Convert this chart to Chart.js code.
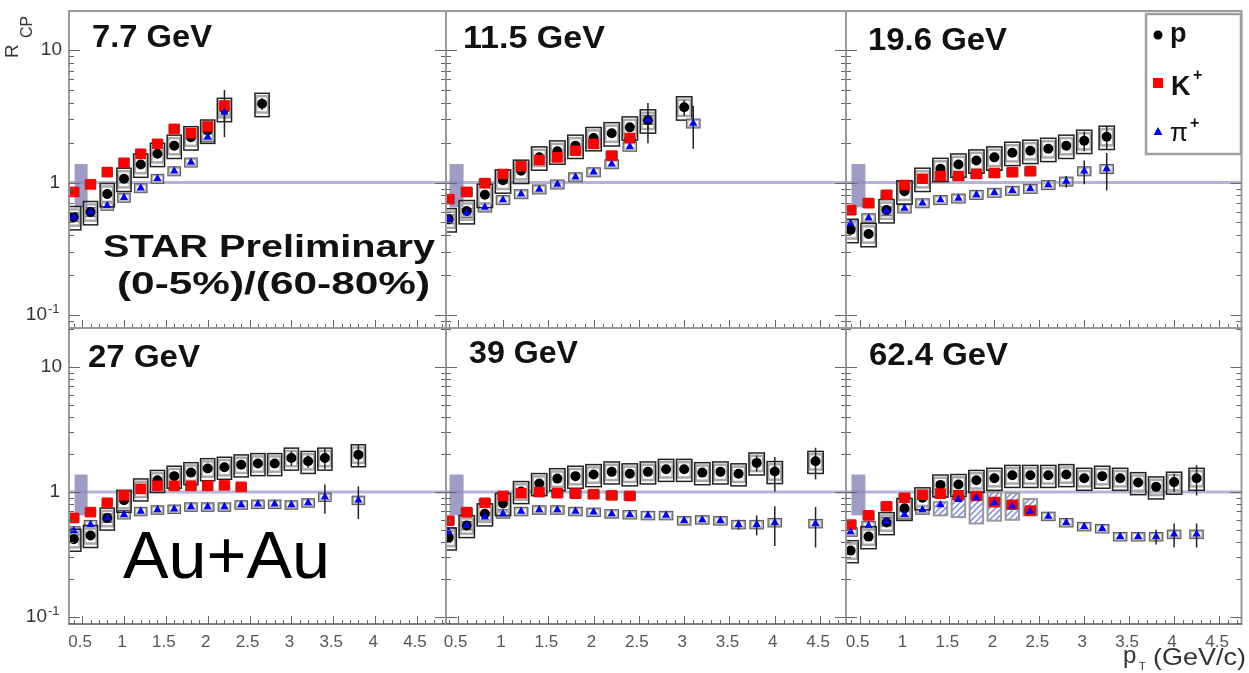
<!DOCTYPE html>
<html>
<head>
<meta charset="utf-8">
<script src="https://cdn.jsdelivr.net/npm/chart.js@4.4.1/dist/chart.umd.min.js"></script>
<style>
body{margin:0;background:#fff;}
#wrap{position:relative;width:1249px;height:673px;overflow:hidden;}
#wrap canvas{position:absolute;left:0;top:0;}
</style>
</head>
<body>
<div id="wrap"></div>
<script>
// R_CP (0-5%)/(60-80%) values, one set per energy
const pt77  = [0.4,0.6,0.8,1.0,1.2,1.4,1.6,1.8,2.0,2.2,2.65];
const p77   = [0.55,0.60,0.82,1.07,1.37,1.65,1.90,2.20,2.47,3.60,3.93];
const k77   = [0.85,0.97,1.20,1.41,1.65,1.96,2.54,2.36,2.65,3.81,null];
const pi77  = [0.55,0.60,0.67,0.77,0.91,1.07,1.22,1.42,2.20,3.39,null];
const pErr77  = [0,0,0,0,0,0,0,0,0,1.4,0.4];
const piErr77 = [0,0,0,0,0,0,0,0,0,0.5,0];

const pt115 = [0.4,0.6,0.8,1.0,1.2,1.4,1.6,1.8,2.0,2.2,2.4,2.6,3.0,3.1];
const p115  = [0.53,0.61,0.81,1.04,1.23,1.55,1.72,1.90,2.17,2.36,2.61,2.95,3.70,null];
const k115  = [0.75,0.85,0.99,1.16,1.33,1.48,1.55,1.74,1.96,1.60,2.17,null,null,null];
const pi115 = [0.53,0.59,0.65,0.74,0.82,0.89,0.97,1.10,1.20,1.38,1.87,2.98,null,2.80];
const pErr115  = [0,0,0,0,0,0,0,0,0,0,0,0.4,0.5,0];
const piErr115 = [0,0,0,0,0,0,0,0,0,0,0,1.0,0,1.0];

const pt196 = [0.4,0.6,0.8,1.0,1.2,1.4,1.6,1.8,2.0,2.2,2.4,2.6,2.8,3.0,3.25];
const p196  = [0.44,0.41,0.62,0.86,1.07,1.27,1.37,1.47,1.55,1.68,1.74,1.80,1.90,2.07,2.22];
const k196  = [0.62,0.70,0.81,0.96,1.07,1.12,1.12,1.16,1.18,1.20,1.22,null,null,null,null];
const pi196 = [0.49,0.54,0.61,0.64,0.70,0.74,0.76,0.81,0.84,0.87,0.90,0.96,1.02,1.22,1.27];
const pErr196  = [0,0,0,0,0,0,0,0,0,0,0,0,0,0.35,0.45];
const piErr196 = [0,0,0,0,0,0,0,0,0,0,0,0,0.1,0.25,0.4];

const pt27  = [0.4,0.6,0.8,1.0,1.2,1.4,1.6,1.8,2.0,2.2,2.4,2.6,2.8,3.0,3.2,3.4,3.8];
const p27   = [0.42,0.45,0.62,0.86,1.06,1.24,1.34,1.43,1.54,1.58,1.65,1.69,1.69,1.87,1.76,1.87,1.99];
const k27   = [0.62,0.69,0.82,0.94,1.06,1.12,1.12,1.12,1.12,1.13,1.10,null,null,null,null,null,null];
const pi27  = [0.49,0.55,0.62,0.66,0.70,0.72,0.73,0.76,0.76,0.76,0.79,0.80,0.80,0.79,0.82,0.91,0.86];
const pErr27  = [0,0,0,0,0,0,0,0,0,0,0,0,0,0.25,0.2,0.35,0.4];
const piErr27 = [0,0,0,0,0,0,0,0,0,0,0,0,0,0,0,0.24,0.25];

const pt39  = [0.4,0.6,0.8,1.0,1.2,1.4,1.6,1.8,2.0,2.2,2.4,2.6,2.8,3.0,3.2,3.4,3.6,3.8,4.0,4.45];
const p39   = [0.43,0.54,0.67,0.81,1.01,1.17,1.28,1.34,1.38,1.45,1.40,1.45,1.52,1.52,1.43,1.45,1.40,1.71,1.46,1.76];
const k39   = [0.59,0.69,0.82,0.93,0.98,1.00,0.98,0.97,0.96,0.94,0.93,null,null,null,null,null,null,null,null,null];
const pi39  = [0.48,0.54,0.63,0.67,0.70,0.72,0.72,0.70,0.69,0.67,0.66,0.65,0.65,0.59,0.60,0.59,0.55,0.55,0.57,0.56];
const pErr39  = [0,0,0,0,0,0,0,0,0,0,0,0,0,0,0,0,0,0.25,0.45,0.5];
const piErr39 = [0,0,0,0,0,0,0,0,0,0,0,0,0,0,0,0,0.05,0.1,0.2,0.2];

const pt62  = [0.4,0.6,0.8,1.0,1.2,1.4,1.6,1.8,2.0,2.2,2.4,2.6,2.8,3.0,3.2,3.4,3.6,3.8,4.0,4.25];
const p62   = [0.34,0.44,0.57,0.74,0.90,1.14,1.15,1.24,1.29,1.36,1.36,1.36,1.38,1.29,1.34,1.29,1.19,1.10,1.20,1.29];
const k62   = [0.55,0.65,0.77,0.90,0.95,0.97,0.94,0.93,0.83,0.79,0.71,null,null,null,null,null,null,null,null,null];
const pi62  = [0.48,0.54,0.58,0.66,0.72,0.79,0.87,0.90,0.82,0.77,0.70,0.64,0.57,0.53,0.51,0.44,0.44,0.44,0.46,0.46];
const pErr62  = [0,0,0,0,0,0,0,0,0,0,0,0,0,0,0,0,0,0,0.2,0.35];
const piErr62 = [0,0,0,0,0,0,0,0,0,0,0,0,0,0,0,0,0,0.06,0.1,0.1];
// hatched pion boxes at 62.4 GeV (pT 1.4 - 2.4)
const hatchPt62 = [1.4,1.6,1.8,2.0,2.2,2.4];
const hatchLo62 = [0.65,0.63,0.56,0.59,0.60,0.65];
const hatchHi62 = [0.83,0.88,1.00,1.00,0.98,0.88];

// normalisation uncertainty box and relative systematics
const normX = [0.41,0.565];
const normY = [0.65,1.38];
const pSys = 0.2, kSys = 0.07, piSys = 0.06;

const xTicks = [0.5,1,1.5,2,2.5,3,3.5,4,4.5];
const xLabels = ['0.5','1','1.5','2','2.5','3','3.5','4','4.5'];

const W = 1249, H = 673;
const FONT = '"Liberation Sans", Arial, sans-serif';

const panels = [
  {name:'7.7 GeV', pt:pt77, p:p77, k:k77, pi:pi77, pe:pErr77, pie:piErr77,
   area:[69,11,446,328], xr:[0.343,4.847], yr:[0.08,19.7], col:0, row:0, lab:[92,47,120]},
  {name:'11.5 GeV', pt:pt115, p:p115, k:k115, pi:pi115, pe:pErr115, pie:piErr115,
   area:[446,11,846,328], xr:[0.371,4.786], yr:[0.08,19.7], col:1, row:0, lab:[463,48,142]},
  {name:'19.6 GeV', pt:pt196, p:p196, k:k196, pi:pi196, pe:pErr196, pie:piErr196,
   area:[846,11,1245,328], xr:[0.349,4.75], yr:[0.08,19.7], col:2, row:0, lab:[868,50,139]},
  {name:'27 GeV', pt:pt27, p:p27, k:k27, pi:pi27, pe:pErr27, pie:piErr27,
   area:[69,328,446,624], xr:[0.343,4.847], yr:[0.088,20.5], col:0, row:1, lab:[88,367,112]},
  {name:'39 GeV', pt:pt39, p:p39, k:k39, pi:pi39, pe:pErr39, pie:piErr39,
   area:[446,328,846,624], xr:[0.371,4.786], yr:[0.088,20.5], col:1, row:1, lab:[469,363,109]},
  {name:'62.4 GeV', pt:pt62, p:p62, k:k62, pi:pi62, pe:pErr62, pie:piErr62,
   area:[846,328,1245,624], xr:[0.349,4.75], yr:[0.088,20.5], col:2, row:1, lab:[869,365,139],
   hatch:true}
];

function pts(pt, ys, errs){
  const out = [];
  pt.forEach((x,i)=>{ if (ys[i] != null) out.push({x:x, y:ys[i], e: errs ? errs[i] : 0}); });
  return out;
}

function fitText(ctx, txt, x, y, w, font){
  ctx.save();
  ctx.font = font;
  const m = ctx.measureText(txt).width;
  ctx.translate(x, y);
  ctx.scale(w / m, 1);
  ctx.textAlign = 'left';
  ctx.textBaseline = 'alphabetic';
  ctx.fillText(txt, 0, 0);
  ctx.restore();
}

function box(ctx, sx, sy, xc, yc, hw, frac, color, lw){
  const l = sx.getPixelForValue(xc-hw), r = sx.getPixelForValue(xc+hw);
  const t = sy.getPixelForValue(yc*(1+frac)), b = sy.getPixelForValue(yc*(1-frac));
  ctx.strokeStyle = color; ctx.lineWidth = lw;
  ctx.strokeRect(l, t, r-l, b-t);
}

function makePlugin(P){
  return {
    id: 'rcp',
    beforeDatasetsDraw(chart){
      const ctx = chart.ctx, a = chart.chartArea, sx = chart.scales.x, sy = chart.scales.y;
      ctx.save();
      ctx.beginPath(); ctx.rect(a.left, a.top, a.right-a.left, a.bottom-a.top); ctx.clip();
      // unity line
      const y1 = sy.getPixelForValue(1);
      ctx.strokeStyle = '#b4b4d6'; ctx.lineWidth = 3;
      ctx.beginPath(); ctx.moveTo(a.left, y1); ctx.lineTo(a.right, y1); ctx.stroke();
      // normalisation box
      const nx0 = sx.getPixelForValue(normX[0]), nx1 = sx.getPixelForValue(normX[1]);
      const ny0 = sy.getPixelForValue(normY[1]), ny1 = sy.getPixelForValue(normY[0]);
      ctx.fillStyle = 'rgba(140,140,188,0.85)';
      ctx.fillRect(nx0, ny0, nx1-nx0, ny1-ny0);
      // hatched pion boxes
      if (P.hatch){
        hatchPt62.forEach((x,i)=>{
          const l = sx.getPixelForValue(x-0.075), r = sx.getPixelForValue(x+0.075);
          const t = sy.getPixelForValue(hatchHi62[i]), b = sy.getPixelForValue(hatchLo62[i]);
          ctx.save();
          ctx.beginPath(); ctx.rect(l, t, r-l, b-t); ctx.clip();
          ctx.strokeStyle = '#8090e8'; ctx.lineWidth = 1.6;
          for (let s = -(b-t); s < (r-l); s += 6){
            ctx.beginPath(); ctx.moveTo(l+s, b); ctx.lineTo(l+s+(b-t), t); ctx.stroke();
          }
          ctx.restore();
          ctx.strokeStyle = '#999'; ctx.lineWidth = 2;
          ctx.strokeRect(l, t, r-l, b-t);
        });
      }
      // systematic boxes
      P.pt.forEach((x,i)=>{
        if (P.pi[i] != null && !(P.hatch && x >= 1.3 && x <= 2.5)){
          box(ctx, sx, sy, x, P.pi[i], 0.065, piSys, '#b0b0b0', 2);
          box(ctx, sx, sy, x, P.pi[i], 0.075, piSys*1.3, '#555', 1);
        }
        if (P.k[i] != null){
          box(ctx, sx, sy, x, P.k[i], 0.06, kSys, '#555', 1.5);
        }
        if (P.p[i] != null){
          box(ctx, sx, sy, x, P.p[i], 0.072, pSys*0.7, '#aaa', 2.5);
          box(ctx, sx, sy, x, P.p[i], 0.085, pSys, '#222', 1.5);
        }
      });
      // statistical error bars
      ctx.strokeStyle = '#222'; ctx.lineWidth = 1.5;
      chart.data.datasets.forEach(ds=>{
        ds.data.forEach(d=>{
          if (!d.e) return;
          const px = sx.getPixelForValue(d.x);
          ctx.beginPath();
          ctx.moveTo(px, sy.getPixelForValue(d.y + d.e));
          ctx.lineTo(px, sy.getPixelForValue(Math.max(d.y - d.e, 0.01)));
          ctx.stroke();
        });
      });
      ctx.restore();
    },
    afterDraw(chart){
      const ctx = chart.ctx, a = chart.chartArea, sx = chart.scales.x, sy = chart.scales.y;
      ctx.save();
      // frame
      ctx.strokeStyle = '#9a9a9a'; ctx.lineWidth = 2;
      ctx.strokeRect(a.left, a.top, a.right-a.left, a.bottom-a.top);
      ctx.strokeStyle = '#777'; ctx.lineWidth = 1.5;
      ctx.beginPath(); ctx.moveTo(a.left, a.bottom); ctx.lineTo(a.right, a.bottom); ctx.stroke();
      // log y ticks, both sides
      ctx.strokeStyle = '#666'; ctx.lineWidth = 1;
      for (let e = -2; e <= 1; e++){
        for (let m = 1; m <= 9; m++){
          const v = m * Math.pow(10, e);
          if (v < P.yr[0] || v > P.yr[1]) continue;
          const py = Math.round(sy.getPixelForValue(v)) + 0.5;
          const len = m === 1 ? 11 : 5;
          ctx.beginPath();
          ctx.moveTo(a.left, py); ctx.lineTo(a.left+len, py);
          ctx.moveTo(a.right, py); ctx.lineTo(a.right-len, py);
          ctx.stroke();
        }
      }
      // x ticks along bottom
      for (let i = 3; i <= 49; i++){
        const v = i / 10;
        if (v < P.xr[0] || v > P.xr[1]) continue;
        const px = Math.round(sx.getPixelForValue(v)) + 0.5;
        const len = (i % 5 === 0) ? 8 : 4;
        ctx.beginPath(); ctx.moveTo(px, a.bottom); ctx.lineTo(px, a.bottom-len); ctx.stroke();
      }
      // y tick labels in first column
      ctx.fillStyle = '#333';
      if (P.col === 0){
        ctx.font = '19px ' + FONT;
        ctx.textBaseline = 'middle'; ctx.textAlign = 'right';
        ctx.fillText('10', a.left-7, sy.getPixelForValue(10));
        ctx.fillText('1', a.left-9, sy.getPixelForValue(1));
        const y01 = sy.getPixelForValue(0.1);
        ctx.fillText('10', a.left-22, y01);
        ctx.font = '13px ' + FONT; ctx.textAlign = 'left';
        ctx.fillText('-1', a.left-21, y01-6);
      }
      // x tick labels in bottom row
      if (P.row === 1){
        ctx.font = '17px ' + FONT; ctx.fillStyle = '#555';
        ctx.textAlign = 'center'; ctx.textBaseline = 'middle';
        xTicks.forEach((v,i)=>{ ctx.fillText(xLabels[i], sx.getPixelForValue(v)-2, a.bottom+18); });
      }
      // energy label
      ctx.fillStyle = '#111';
      fitText(ctx, P.name, P.lab[0], P.lab[1], P.lab[2], 'bold 31px ' + FONT);

      if (P.col === 0 && P.row === 0){
        fitText(ctx, 'STAR Preliminary', 103, 257, 332, 'bold 32px ' + FONT);
        fitText(ctx, '(0-5%)/(60-80%)', 117, 294, 313, 'bold 32px ' + FONT);
        // y title
        ctx.fillStyle = '#333';
        ctx.save();
        ctx.translate(18, 58); ctx.rotate(-Math.PI/2);
        ctx.font = '19px ' + FONT; ctx.textAlign = 'left'; ctx.textBaseline = 'alphabetic';
        ctx.fillText('R', 0, 0);
        ctx.font = '16px ' + FONT;
        ctx.fillText('CP', 20, 14);
        ctx.restore();
      }
      if (P.col === 0 && P.row === 1){
        ctx.fillStyle = '#000';
        fitText(ctx, 'Au+Au', 123, 578, 207, '66px ' + FONT);
      }
      if (P.col === 2 && P.row === 1){
        ctx.fillStyle = '#333';
        ctx.font = '24px ' + FONT; ctx.textAlign = 'left'; ctx.textBaseline = 'alphabetic';
        ctx.fillText('p', 1123, 663);
        ctx.font = '11px ' + FONT;
        ctx.fillText('T', 1139, 670);
        fitText(ctx, '(GeV/c)', 1153, 665, 93, '24px ' + FONT);
      }
      if (P.col === 2 && P.row === 0){
        // legend
        ctx.fillStyle = '#fff';
        ctx.fillRect(1146, 14, 95, 140);
        ctx.strokeStyle = '#a0a0a0'; ctx.lineWidth = 2.5;
        ctx.strokeRect(1146, 14, 95, 140);
        ctx.fillStyle = '#000';
        ctx.beginPath(); ctx.arc(1158, 35, 4.5, 0, Math.PI*2); ctx.fill();
        ctx.fillStyle = '#ff0000';
        ctx.fillRect(1153, 78, 10, 10);
        ctx.fillStyle = '#0000ff';
        ctx.beginPath(); ctx.moveTo(1158, 127); ctx.lineTo(1162.5, 135); ctx.lineTo(1153.5, 135); ctx.closePath(); ctx.fill();
        ctx.fillStyle = '#111';
        ctx.textAlign = 'left'; ctx.textBaseline = 'alphabetic';
        ctx.font = 'bold 27px ' + FONT;
        ctx.fillText('p', 1170, 42);
        ctx.fillText('K', 1171, 95);
        ctx.font = 'bold 16px ' + FONT;
        ctx.fillText('+', 1193, 80);
        ctx.font = '26px ' + FONT;
        ctx.fillText('π', 1170, 141);
        ctx.font = 'bold 16px ' + FONT;
        ctx.fillText('+', 1190, 128);
      }
      ctx.restore();
    }
  };
}

const wrap = document.getElementById('wrap');
panels.forEach(P=>{
  const cv = document.createElement('canvas');
  cv.width = W; cv.height = H;
  cv.style.width = W + 'px'; cv.style.height = H + 'px';
  wrap.appendChild(cv);
  new Chart(cv, {
    type: 'scatter',
    data: {
      datasets: [
        {label:'π⁺', data: pts(P.pt, P.pi, P.pie), pointStyle:'triangle', pointRadius:4.8,
         backgroundColor:'#0000ff', borderColor:'#0000ff', pointBorderWidth:0},
        {label:'K⁺', data: pts(P.pt, P.k, null), pointStyle:'rect', pointRadius:7.5,
         backgroundColor:'#ff0000', borderColor:'#ff0000', pointBorderWidth:0},
        {label:'p', data: pts(P.pt, P.p, P.pe), pointStyle:'circle', pointRadius:5,
         backgroundColor:'#000', borderColor:'#000', pointBorderWidth:0}
      ]
    },
    options: {
      responsive: false,
      animation: false,
      devicePixelRatio: 1,
      events: [],
      layout: {padding: {left: P.area[0], top: P.area[1], right: W - P.area[2], bottom: H - P.area[3]}},
      plugins: {legend: {display: false}, tooltip: {enabled: false}},
      scales: {
        x: {type: 'linear', min: P.xr[0], max: P.xr[1], display: false},
        y: {type: 'logarithmic', min: P.yr[0], max: P.yr[1], display: false}
      }
    },
    plugins: [makePlugin(P)]
  });
});
</script>
</body>
</html>
